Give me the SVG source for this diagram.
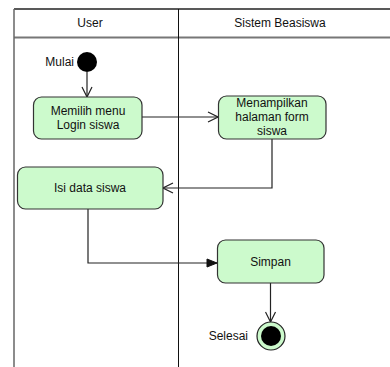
<svg xmlns="http://www.w3.org/2000/svg" width="390" height="367" viewBox="0 0 390 367">
  <defs>
    <style>
      .lane { stroke: #333; fill: none; }
      .txt { font-family: "Liberation Sans", Arial, sans-serif; font-size: 12px; fill: #111; }
      .mid { text-anchor: middle; }
      .end { text-anchor: end; }
      .act { fill: #ccfacc; stroke: #333; stroke-width: 1.2; }
      .flow { stroke: #222; stroke-width: 1.2; fill: none; }
    </style>
    <marker id="open" viewBox="0 0 12 12" refX="11" refY="6" markerWidth="12" markerHeight="12" markerUnits="userSpaceOnUse" orient="auto">
      <path d="M1,1 L11,6 L1,11" fill="none" stroke="#222" stroke-width="1.2"/>
    </marker>
    <marker id="solid" viewBox="0 0 12 12" refX="11" refY="6" markerWidth="12" markerHeight="12" markerUnits="userSpaceOnUse" orient="auto">
      <path d="M1,2 L11,6 L1,10 Z" fill="#111" stroke="#111" stroke-width="1"/>
    </marker>
  </defs>

  <rect width="390" height="367" fill="#fff"/>

  <!-- swimlanes -->
  <g id="lanes">
    <line x1="14" y1="9" x2="390" y2="9" stroke="#222" stroke-width="1.5"/>
    <line x1="14" y1="37.5" x2="390" y2="37.5" stroke="#777" stroke-width="2"/>
    <line x1="14" y1="9" x2="14" y2="367" stroke="#666" stroke-width="1.5"/>
    <line x1="178.5" y1="9" x2="178.5" y2="367" stroke="#111" stroke-width="1"/>
    <text class="txt mid" x="90" y="27">User</text>
    <text class="txt mid" x="280" y="27">Sistem Beasiswa</text>
  </g>

  <!-- connectors -->
  <g id="connectors">
    <line class="flow" x1="87" y1="72" x2="87" y2="97" marker-end="url(#open)"/>
    <line class="flow" x1="142" y1="117" x2="218" y2="117" marker-end="url(#open)"/>
    <polyline class="flow" points="272,139 272,188 163,188" marker-end="url(#open)"/>
    <polyline class="flow" points="88,207 88,263 217,263" marker-end="url(#solid)"/>
    <line class="flow" x1="270.5" y1="283" x2="270.5" y2="322" marker-end="url(#open)"/>
  </g>

  <!-- start -->
  <g id="start">
    <circle cx="87" cy="62" r="10" fill="#000"/>
    <text class="txt end" x="74" y="66">Mulai</text>
  </g>

  <g id="memilih-menu">
    <rect class="act" x="33.5" y="97" width="108.5" height="42" rx="8"/>
    <text class="txt mid" x="88" y="115">Memilih menu</text>
    <text class="txt mid" x="88" y="129">Login siswa</text>
  </g>

  <g id="menampilkan-form">
    <rect class="act" x="218.5" y="96" width="107.5" height="43" rx="8"/>
    <text class="txt mid" x="272" y="107">Menampilkan</text>
    <text class="txt mid" x="272" y="121">halaman form</text>
    <text class="txt mid" x="272" y="135">siswa</text>
  </g>

  <g id="isi-data">
    <rect class="act" x="17.5" y="167" width="145.5" height="42" rx="8"/>
    <text class="txt mid" x="90" y="192">Isi data siswa</text>
  </g>

  <g id="simpan">
    <rect class="act" x="217.5" y="240" width="106.5" height="43" rx="8"/>
    <text class="txt mid" x="270.5" y="266">Simpan</text>
  </g>

  <!-- end -->
  <g id="selesai">
    <circle cx="271" cy="336" r="14" fill="#ccfacc" stroke="#222" stroke-width="1.2"/>
    <circle cx="271" cy="336" r="10" fill="#000"/>
    <text class="txt end" x="248" y="340">Selesai</text>
  </g>
</svg>
